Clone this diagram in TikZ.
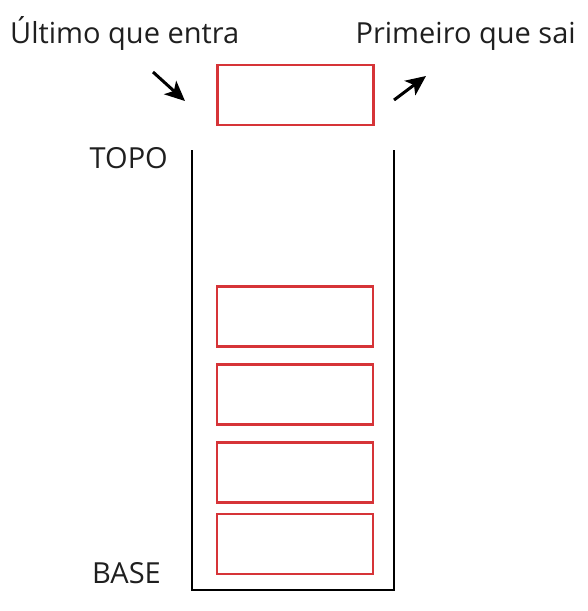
\documentclass[tikz,border=0pt]{standalone}
\usepackage{fontspec}
\setmainfont{Open Sans}
\usetikzlibrary{arrows.meta}
\definecolor{boxred}{RGB}{214,52,56}
\begin{document}
\begin{tikzpicture}[x=1pt,y=-1pt,
  item/.style={draw=boxred,line width=2.2pt,minimum width=156pt,minimum height=60pt,inner sep=0pt},
  lbl/.style={font=\fontsize{29}{34}\selectfont,inner sep=0pt,text=black!88},
  arr/.style={line width=3pt,-{Stealth[length=20pt,width=18pt,inset=5pt]}}]
\useasboundingbox (0,0) rectangle (587,611);
\draw[line width=2.8pt] (192,150) -- (192,590) -- (394,590) -- (394,150);
\node[item] (t) at (295.5,95) {};
\node[item] (b1) at (295,316.5) {};
\node[item] (b2) at (295,394.5) {};
\node[item] (b3) at (295,472.5) {};
\node[item] (b4) at (295,544) {};
\node[lbl,anchor=base west] (ult) at (10,43) {Último que entra};
\node[lbl,anchor=base east] (pri) at (576,43) {Primeiro que sai};
\node[lbl,anchor=base east] (topo) at (168,168) {TOPO};
\node[lbl,anchor=base east] (base) at (161,583) {BASE};
\coordinate (a1) at (153,72);
\coordinate (a2) at (185,101);
\coordinate (a3) at (394,100);
\coordinate (a4) at (426,76);
\draw[arr] (a1) -- (a2);
\draw[arr] (a3) -- (a4);
\end{tikzpicture}
\end{document}
